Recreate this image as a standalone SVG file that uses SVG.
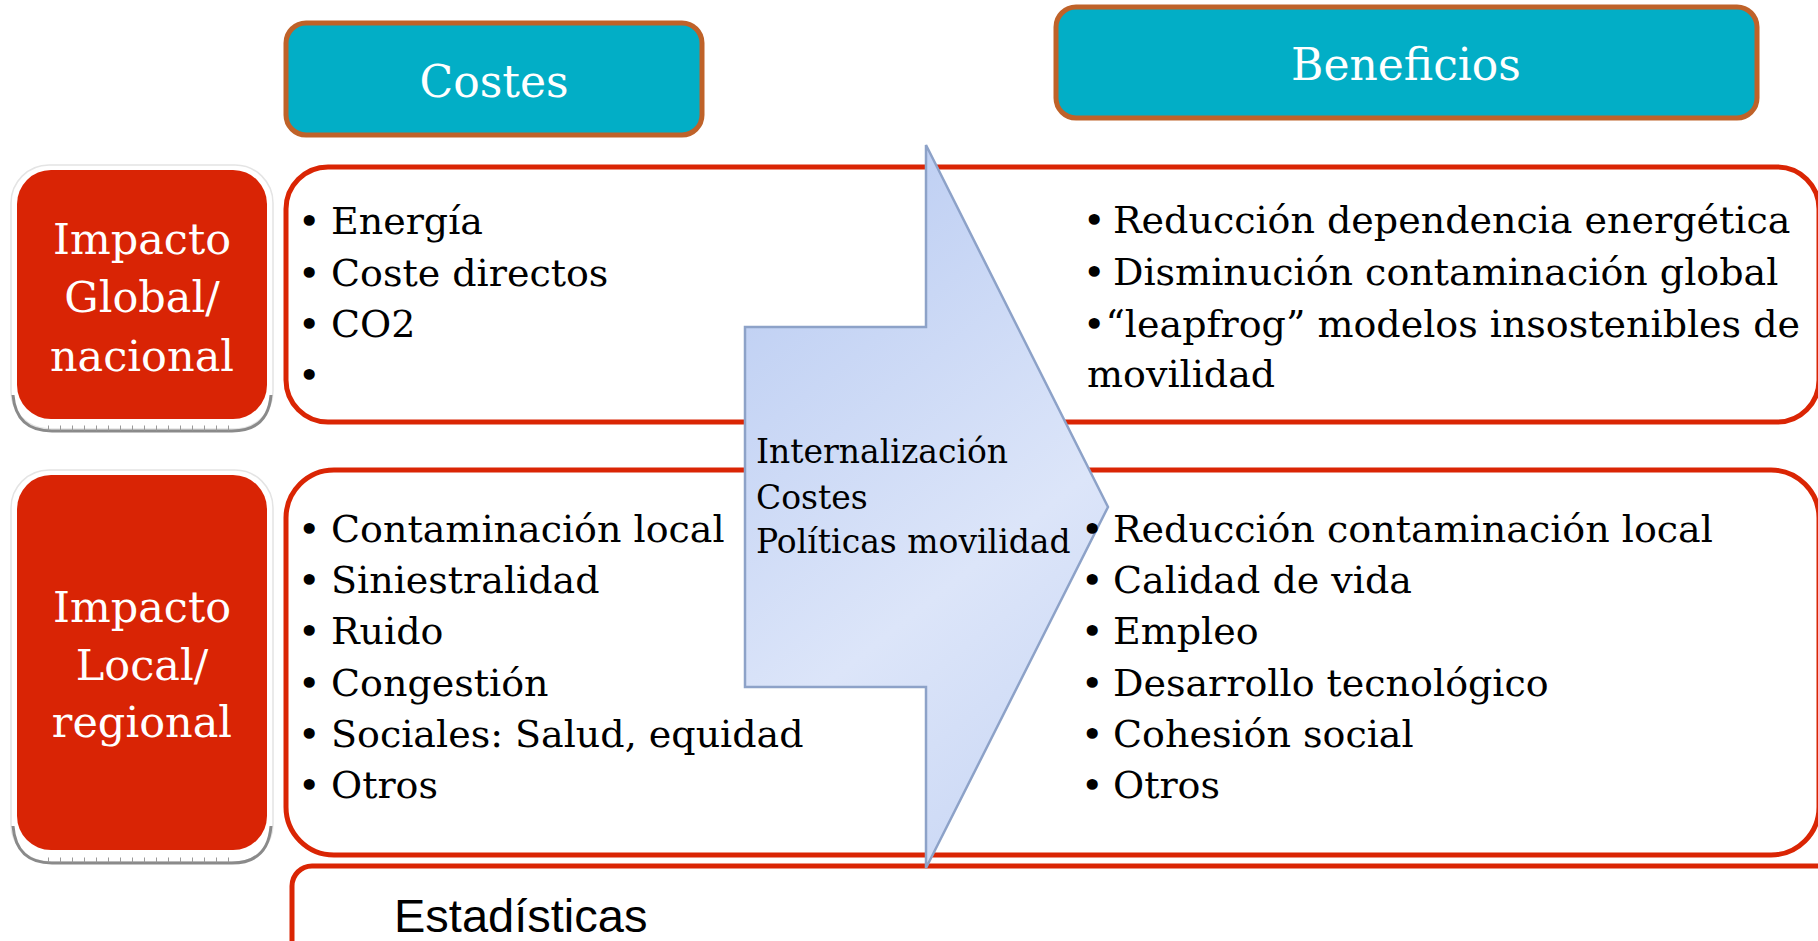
<svg xmlns="http://www.w3.org/2000/svg" width="1818" height="941" viewBox="0 0 1818 941">
<style>
.hdbox{fill:#02AEC6;stroke:#BF6229;stroke-width:5}
.hd{font-family:"DejaVu Serif",serif;font-size:44px;fill:#fff;text-anchor:middle}
.imp{fill:#D92405}
.imptxt{font-family:"DejaVu Serif",serif;font-size:43px;fill:#fff;text-anchor:middle}
.bevel{fill:#fff;stroke:#e4e4e4;stroke-width:1.5}
.bevline{fill:none;stroke:#8a8a8a;stroke-width:3}
.ticks{stroke:#9a9a9a;stroke-width:5;stroke-dasharray:1 11}
.panel{fill:#fff;stroke:#DA2504;stroke-width:5}
.li{font-family:"DejaVu Serif",serif;font-size:38px;fill:#000}
.arrtxt{font-family:"DejaVu Serif",serif;font-size:33px;fill:#000}
.est{font-family:"Liberation Sans",Arial,sans-serif;font-size:47px;fill:#000}
</style>
<defs>
<linearGradient id="ag" x1="0.2" y1="0" x2="0.6" y2="1">
<stop offset="0" stop-color="#BACCF2"/>
<stop offset="0.65" stop-color="#DCE5F9"/>
<stop offset="1" stop-color="#CCD9F5"/>
</linearGradient>
</defs>

<g id="costes">
<rect class="hdbox" x="286" y="23" width="416" height="112" rx="20"/>
<text class="hd" x="494" y="97">Costes</text>
</g>

<g id="beneficios">
<rect class="hdbox" x="1056" y="7" width="701" height="111" rx="20"/>
<text class="hd" x="1406" y="80">Beneficios</text>
</g>

<g id="impacto-global">
<rect class="bevel" x="11" y="165" width="262" height="264" rx="38"/>
<path class="bevline" d="M13,395 Q16,431 52,431 L232,431 Q268,431 271,395"/>
<line class="ticks" x1="48" y1="428" x2="240" y2="428"/>
<rect class="imp" x="17" y="170" width="250" height="249" rx="34"/>
<text class="imptxt"><tspan x="142" y="254">Impacto</tspan><tspan x="142" y="312">Global/</tspan><tspan x="142" y="371">nacional</tspan></text>
</g>

<g id="impacto-local">
<rect class="bevel" x="11" y="470" width="262" height="392" rx="38"/>
<path class="bevline" d="M13,826 Q16,863 52,863 L232,863 Q268,863 271,826"/>
<line class="ticks" x1="48" y1="860" x2="240" y2="860"/>
<rect class="imp" x="17" y="475" width="250" height="375" rx="34"/>
<text class="imptxt"><tspan x="142" y="622">Impacto</tspan><tspan x="142" y="680">Local/</tspan><tspan x="142" y="737">regional</tspan></text>
</g>

<g id="panel-global">
<rect class="panel" x="286" y="167" width="1533" height="255" rx="42"/>
</g>

<g id="panel-local">
<rect class="panel" x="286" y="470" width="1533" height="385" rx="48"/>
</g>

<g id="estadisticas">
<rect class="panel" x="292" y="866" width="1600" height="200" rx="20"/>
<text class="est" x="394" y="932">Estadísticas</text>
</g>

<g id="connectors">
<g id="arrow">
<polygon points="745,327 926,327 926,145 1108,507 926,868 926,687 745,687" fill="url(#ag)" stroke="#8DA2C8" stroke-width="2.5" stroke-linejoin="miter"/>
<text class="arrtxt"><tspan x="756" y="463">Internalización</tspan><tspan x="756" y="509">Costes</tspan><tspan x="756" y="553">Políticas movilidad</tspan></text>
</g>
</g>

<g id="costes-global">
<text class="li" y="234"><tspan x="298">•</tspan><tspan x="331">Energía</tspan></text>
<text class="li" y="286"><tspan x="298">•</tspan><tspan x="331">Coste directos</tspan></text>
<text class="li" y="337"><tspan x="298">•</tspan><tspan x="331">CO2</tspan></text>
<text class="li" y="388"><tspan x="298">•</tspan></text>
</g>

<g id="beneficios-global">
<text class="li" y="233"><tspan x="1083">•</tspan><tspan x="1113">Reducción dependencia energética</tspan></text>
<text class="li" y="285"><tspan x="1083">•</tspan><tspan x="1113">Disminución contaminación global</tspan></text>
<text class="li" y="337"><tspan x="1083">•“leapfrog” modelos insostenibles de</tspan></text>
<text class="li" y="387"><tspan x="1087">movilidad</tspan></text>
</g>

<g id="costes-local">
<text class="li" y="542"><tspan x="298">•</tspan><tspan x="331">Contaminación local</tspan></text>
<text class="li" y="593"><tspan x="298">•</tspan><tspan x="331">Siniestralidad</tspan></text>
<text class="li" y="644"><tspan x="298">•</tspan><tspan x="331">Ruido</tspan></text>
<text class="li" y="696"><tspan x="298">•</tspan><tspan x="331">Congestión</tspan></text>
<text class="li" y="747"><tspan x="298">•</tspan><tspan x="331">Sociales: Salud, equidad</tspan></text>
<text class="li" y="798"><tspan x="298">•</tspan><tspan x="331">Otros</tspan></text>
</g>

<g id="beneficios-local">
<text class="li" y="542"><tspan x="1081">•</tspan><tspan x="1113">Reducción contaminación local</tspan></text>
<text class="li" y="593"><tspan x="1081">•</tspan><tspan x="1113">Calidad de vida</tspan></text>
<text class="li" y="644"><tspan x="1081">•</tspan><tspan x="1113">Empleo</tspan></text>
<text class="li" y="696"><tspan x="1081">•</tspan><tspan x="1113">Desarrollo tecnológico</tspan></text>
<text class="li" y="747"><tspan x="1081">•</tspan><tspan x="1113">Cohesión social</tspan></text>
<text class="li" y="798"><tspan x="1081">•</tspan><tspan x="1113">Otros</tspan></text>
</g>
</svg>
